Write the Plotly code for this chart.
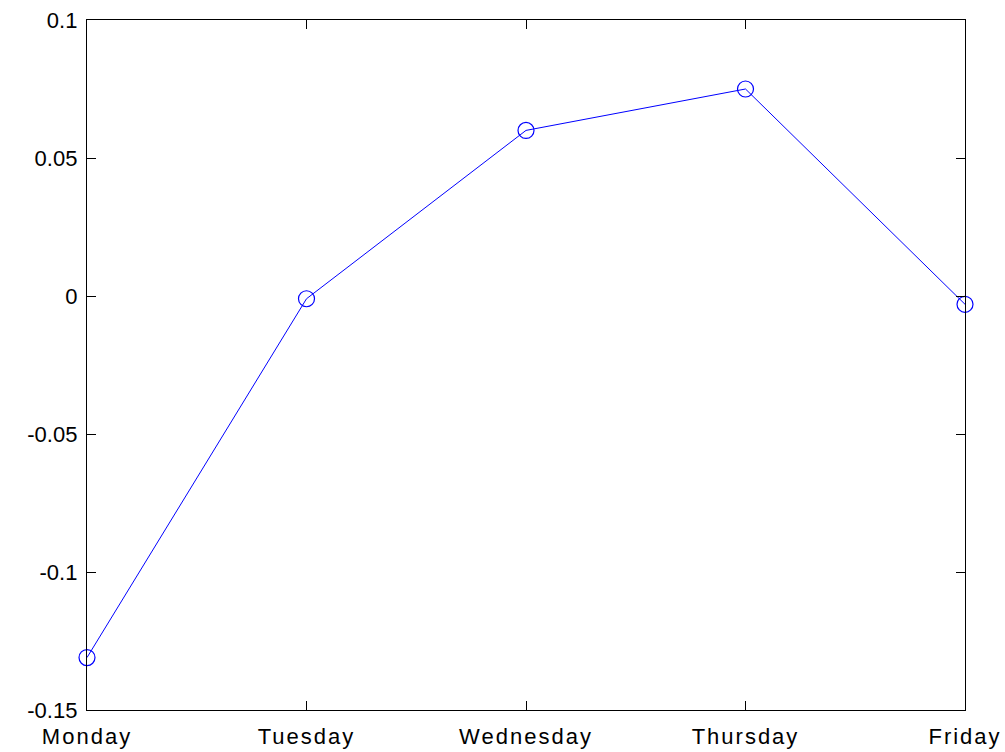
import plotly.graph_objects as go

days = ["Monday", "Tuesday", "Wednesday", "Thursday", "Friday"]
values = [-0.131, -0.001, 0.060, 0.075, -0.003]

y_tickvals = [-0.15, -0.1, -0.05, 0, 0.05, 0.1]
y_ticktext = ["-0.15", "-0.1", "-0.05", "0", "0.05", "0.1"]

fig = go.Figure()
fig.add_trace(go.Scatter(
    x=list(range(len(days))),
    y=values,
    mode="lines+markers",
    line=dict(color="#0000ff", width=1),
    marker=dict(symbol="circle-open", size=16, color="#0000ff",
                line=dict(width=1.2, color="#0000ff")),
    cliponaxis=False,
    showlegend=False,
))

axis_style = dict(
    showline=True, linecolor="black", linewidth=1.3, mirror="allticks",
    ticks="inside", ticklen=9, tickcolor="black", tickwidth=1,
    showgrid=False, zeroline=False, automargin=False,
    tickfont=dict(family="Liberation Sans, Arial", size=22, color="black"),
)

fig.update_xaxes(
    range=[0, len(days) - 1],
    tickvals=list(range(len(days))),
    ticktext=days,
    ticklabelstandoff=6,
    **axis_style,
)
fig.update_yaxes(
    range=[-0.15, 0.1],
    tickvals=y_tickvals,
    ticktext=y_ticktext,
    ticklabelstandoff=4,
    **axis_style,
)

fig.update_layout(
    width=1005, height=752,
    margin=dict(l=87, r=40, t=20, b=42),
    plot_bgcolor="white", paper_bgcolor="white",
)

# widen the spacing of the weekday labels a little
spacing_js = """
document.querySelectorAll('.xtick text').forEach(function (t) {
    t.style.letterSpacing = '2px';
});
"""

fig.write_html("out.html", post_script=spacing_js)
